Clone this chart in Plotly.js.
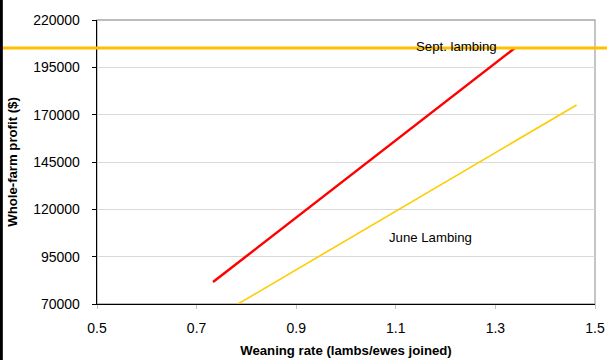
<!DOCTYPE html>
<html>
<head>
<meta charset="utf-8">
<script src="https://cdn.plot.ly/plotly-3.0.1.min.js"></script>
<style>
  html, body { margin: 0; padding: 0; background: #fff; }
  #chart { width: 607px; height: 360px; }
</style>
</head>
<body>
<div id="chart"></div>
<script>
// Whole-farm profit against weaning rate for two lambing times
const septRate = [0.733, 1.339];
const septProfit = [81600, 205200];
const juneRate = [0.783, 1.463];
const juneProfit = [70000, 175100];
// Profit level marked by the horizontal reference line
const targetProfit = 205200;

const xTicks = [0.5, 0.7, 0.9, 1.1, 1.3, 1.5];
const yTicks = [70000, 95000, 120000, 145000, 170000, 195000, 220000];

const font = 'Liberation Sans, Arial, sans-serif';

// pixel -> data helpers for the label positions inside the plot area
const PL = 97, PW = 498, PT = 20, PH = 284;
const px2x = p => 0.5 + (p - PL) / PW;
const py2y = p => 220000 - (p - PT) * (150000 / PH);

const traces = [
  {
    x: septRate, y: septProfit, type: 'scatter', mode: 'lines',
    line: { color: '#FF0000', width: 2.5 }, name: 'Sept. lambing',
    cliponaxis: true
  },
  {
    x: juneRate, y: juneProfit, type: 'scatter', mode: 'lines',
    line: { color: '#FFCC00', width: 1.6 }, name: 'June Lambing',
    cliponaxis: true
  }
];

const layout = {
  width: 607, height: 360,
  margin: { l: PL, r: 607 - PL - PW, t: PT, b: 360 - PT - PH },
  paper_bgcolor: '#ffffff', plot_bgcolor: '#ffffff',
  showlegend: false,
  font: { family: font, size: 12, color: '#000' },
  xaxis: {
    range: [0.5, 1.5], tickvals: xTicks, ticktext: xTicks.map(String),
    showgrid: false, zeroline: false,
    showline: true, linecolor: '#000', linewidth: 1.3,
    ticks: 'outside', ticklen: 4, tickcolor: '#BFBFBF', ticklabelstandoff: 7,
    tickfont: { family: font, size: 14 },
    title: { text: '<b>Weaning rate (lambs/ewes joined)</b>', font: { family: font, size: 13.2 }, standoff: 10 }
  },
  yaxis: {
    range: [70000, 220000], tickvals: yTicks, ticktext: yTicks.map(String),
    showgrid: true, gridcolor: '#D9D9D9', gridwidth: 1, zeroline: false,
    showline: true, linecolor: '#000', linewidth: 1.3,
    ticks: 'outside', ticklen: 4, tickcolor: '#000', ticklabelstandoff: 9,
    tickfont: { family: font, size: 14 },
    title: { text: '<b>Whole-farm profit ($)</b>', font: { family: font, size: 13.2 }, standoff: 12 }
  },
  shapes: [
    // grey frame on the top and right of the plotting area
    { type: 'rect', xref: 'paper', yref: 'paper', x0: 0, x1: 1, y0: 0, y1: 1,
      line: { color: '#A6A6A6', width: 1.3 }, layer: 'below' },
    // horizontal profit line across the full width
    { type: 'line', xref: 'paper', yref: 'y', x0: -0.19, x1: 1.03,
      y0: targetProfit, y1: targetProfit,
      line: { color: '#FFC000', width: 3.2 }, layer: 'above' },
    // dark edge at the left of the figure
    { type: 'line', xref: 'paper', yref: 'paper', x0: -0.1921, x1: -0.1921,
      y0: -0.2, y1: 1.08, line: { color: '#000', width: 3 } }
  ],
  annotations: [
    { x: px2x(456), y: py2y(46), xref: 'x', yref: 'y', text: 'Sept. lambing', showarrow: false,
      font: { family: font, size: 13.2, color: '#000' } },
    { x: px2x(430), y: py2y(237), xref: 'x', yref: 'y', text: 'June Lambing', showarrow: false,
      font: { family: font, size: 13.2, color: '#000' } }
  ]
};

Plotly.newPlot('chart', traces, layout, { displayModeBar: false, staticPlot: true });
</script>
</body>
</html>
